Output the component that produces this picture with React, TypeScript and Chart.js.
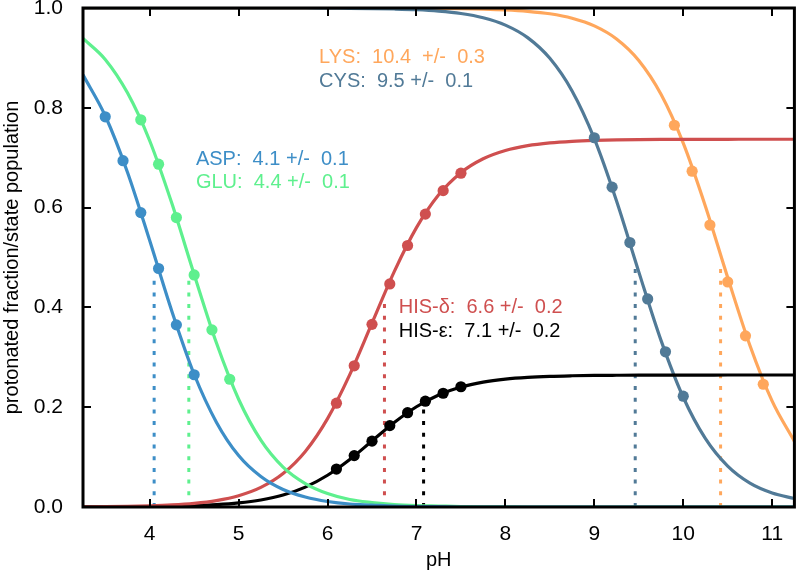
import React, { useEffect, useRef } from "react";
import { Chart, registerables } from "chart.js";

Chart.register(...registerables);

// ---- data ----
const phGrid = [
  3.25, 3.5, 3.75, 4.0, 4.25, 4.5, 4.75, 5.0, 5.25, 5.5, 5.75, 6.0, 6.25, 6.5, 6.75, 7.0, 7.25,
  7.5, 7.75, 8.0, 8.25, 8.5, 8.75, 9.0, 9.25, 9.5, 9.75, 10.0, 10.25, 10.5, 10.75, 11.0, 11.25,
];

const aspCurve = [
  0.866, 0.784, 0.671, 0.534, 0.392, 0.266, 0.17, 0.103, 0.061, 0.035, 0.02, 0.011, 0.006, 0.004,
  0.002, 0.001, 0.001, 0, 0, 0, 0, 0, 0, 0, 0, 0, 0, 0, 0, 0, 0, 0, 0,
];
const gluCurve = [
  0.939, 0.897, 0.83, 0.734, 0.608, 0.466, 0.329, 0.216, 0.134, 0.08, 0.047, 0.027, 0.015, 0.009,
  0.005, 0.003, 0.002, 0.001, 0.0005, 0.0003, 0, 0, 0, 0, 0, 0, 0, 0, 0, 0, 0, 0, 0,
];
const hisDeltaCurve = [
  0.0004, 0.0007, 0.0013, 0.0023, 0.0041, 0.0073, 0.0129, 0.0226, 0.0392, 0.067, 0.1113, 0.1771,
  0.2653, 0.3685, 0.4717, 0.5599, 0.6257, 0.67, 0.6978, 0.7144, 0.7241, 0.7297, 0.7329, 0.7347,
  0.7357, 0.7363, 0.7366, 0.7368, 0.7369, 0.7369, 0.737, 0.737, 0.737,
];
const hisEpsCurve = [
  0.0001, 0.0003, 0.0005, 0.0008, 0.0015, 0.0026, 0.0046, 0.0081, 0.0141, 0.024, 0.0399, 0.0636,
  0.0952, 0.1323, 0.1693, 0.2009, 0.2246, 0.2405, 0.2504, 0.2564, 0.2599, 0.2619, 0.263, 0.2637,
  0.264, 0.2642, 0.2643, 0.2644, 0.2644, 0.2645, 0.2645, 0.2645, 0.2645,
];
const cysCurve = [
  1, 1, 1, 1, 1, 1, 1, 1, 1, 1, 1, 0.9996, 0.9994, 0.9989, 0.998, 0.9965, 0.9937, 0.9889, 0.9804,
  0.9657, 0.9406, 0.8991, 0.8337, 0.7381, 0.6131, 0.4712, 0.3339, 0.2199, 0.1368, 0.0818, 0.0477,
  0.028, 0.017,
];
const lysCurve = [
  1, 1, 1, 1, 1, 1, 1, 1, 1, 1, 1, 1, 1, 1, 0.9998, 0.9996, 0.9993, 0.9988, 0.9979, 0.9963, 0.9934,
  0.9884, 0.9795, 0.9642, 0.938, 0.8949, 0.8272, 0.7292, 0.6023, 0.4598, 0.3237, 0.2121, 0.1315,
];

const aspPointsPH = [3.5, 3.7, 3.9, 4.1, 4.3, 4.5];
const aspPoints = [0.782, 0.694, 0.59, 0.478, 0.365, 0.265];
const gluPointsPH = [3.9, 4.1, 4.3, 4.5, 4.7, 4.9];
const gluPoints = [0.776, 0.687, 0.58, 0.465, 0.355, 0.256];
const hisPointsPH = [6.1, 6.3, 6.5, 6.7, 6.9, 7.1, 7.3, 7.5];
const hisDeltaPoints = [0.208, 0.283, 0.366, 0.447, 0.524, 0.587, 0.634, 0.669];
const hisEpsPoints = [0.076, 0.103, 0.132, 0.163, 0.189, 0.212, 0.228, 0.241];
const cysPointsPH = [9.0, 9.2, 9.4, 9.6, 9.8, 10.0];
const cysPoints = [0.74, 0.641, 0.53, 0.417, 0.311, 0.222];
const lysPointsPH = [9.9, 10.1, 10.3, 10.5, 10.7, 10.9];
const lysPoints = [0.765, 0.673, 0.565, 0.451, 0.343, 0.246];

// pKa markers (vertical dotted lines): pH and height
const pkaLinePH = [4.05, 4.44, 6.64, 7.08, 9.46, 10.42];
const pkaLineTop = [0.455, 0.457, 0.41, 0.198, 0.479, 0.479];

const seriesNames = ["ASP", "GLU", "HIS-δ", "HIS-ε", "CYS", "LYS"];
const labelTexts = [
  "ASP:  4.1 +/-  0.1",
  "GLU:  4.4 +/-  0.1",
  "HIS-δ:  6.6 +/-  0.2",
  "HIS-ε:  7.1 +/-  0.2",
  "CYS:  9.5 +/-  0.1",
  "LYS:  10.4  +/-  0.3",
];

const xTickValues = [4, 5, 6, 7, 8, 9, 10, 11];
const yTickValues = [0, 0.2, 0.4, 0.6, 0.8, 1.0];

// ---- styling / layout ----
const colors = ["#3d8ec7", "#5ef08e", "#cf4f4f", "#000000", "#517a97", "#ffa75c"];
// label anchor in data coordinates (pH, fraction) for each annotation
const labelAnchorPH = [4.52, 4.52, 6.8, 6.8, 5.905, 5.905];
const labelAnchorY = [0.685, 0.639, 0.388, 0.341, 0.842, 0.889];

const FONT = '"Liberation Sans", Arial, Helvetica, sans-serif';

const curves = [aspCurve, gluCurve, hisDeltaCurve, hisEpsCurve, cysCurve, lysCurve];
const pointsPH = [aspPointsPH, gluPointsPH, hisPointsPH, hisPointsPH, cysPointsPH, lysPointsPH];
const points = [aspPoints, gluPoints, hisDeltaPoints, hisEpsPoints, cysPoints, lysPoints];

const framePlugin = {
  id: "frameAndLabels",
  afterDraw(chart: any) {
    const { ctx, chartArea } = chart;
    const { left, right, top, bottom } = chartArea;
    const xs = chart.scales.x;
    const ys = chart.scales.y;
    ctx.save();
    ctx.strokeStyle = "#000";
    ctx.lineWidth = 2;
    ctx.beginPath();
    for (const v of xTickValues) {
      const px = Math.round(xs.getPixelForValue(v));
      ctx.moveTo(px, bottom);
      ctx.lineTo(px, bottom - 8);
      ctx.moveTo(px, top);
      ctx.lineTo(px, top + 8);
    }
    for (const v of yTickValues) {
      const py = Math.round(ys.getPixelForValue(v));
      ctx.moveTo(left, py);
      ctx.lineTo(left + 8, py);
      ctx.moveTo(right, py);
      ctx.lineTo(right - 8, py);
    }
    ctx.stroke();
    ctx.lineWidth = 3;
    ctx.strokeRect(left, top, right - left, bottom - top);

    ctx.font = "20px " + FONT;
    ctx.textAlign = "left";
    ctx.textBaseline = "alphabetic";
    labelTexts.forEach((t, i) => {
      ctx.fillStyle = colors[i];
      ctx.fillText(t, xs.getPixelForValue(labelAnchorPH[i]), ys.getPixelForValue(labelAnchorY[i]));
    });
    ctx.restore();
  },
};

export default function App() {
  const ref = useRef<HTMLCanvasElement | null>(null);

  useEffect(() => {
    document.body.style.margin = "0";
    const canvas = ref.current;
    if (!canvas) return;

    const datasets: any[] = [];
    // markers (top)
    seriesNames.forEach((name, i) => {
      datasets.push({
        label: name + " points",
        data: pointsPH[i].map((p, k) => ({ x: p, y: points[i][k] })),
        showLine: false,
        pointRadius: 5.6,
        pointBackgroundColor: colors[i],
        pointBorderColor: colors[i],
        pointBorderWidth: 0,
        borderColor: colors[i],
        order: 1,
      });
    });
    // smooth curves
    seriesNames.forEach((name, i) => {
      datasets.push({
        label: name,
        data: phGrid.map((p, k) => ({ x: p, y: curves[i][k] })),
        borderColor: colors[i],
        borderWidth: 3.2,
        pointRadius: 0,
        cubicInterpolationMode: "monotone",
        fill: false,
        order: 5,
      });
    });
    // pKa dotted lines (behind)
    seriesNames.forEach((name, i) => {
      datasets.push({
        label: name + " pKa",
        data: [
          { x: pkaLinePH[i], y: 0 },
          { x: pkaLinePH[i], y: pkaLineTop[i] },
        ],
        borderColor: colors[i],
        borderWidth: 3,
        borderDash: [4, 7.7],
        pointRadius: 0,
        fill: false,
        order: 10,
      });
    });

    const chart = new Chart(canvas, {
      type: "line",
      data: { datasets },
      options: {
        animation: false,
        responsive: false,
        devicePixelRatio: 1,
        layout: { padding: { top: 8, right: 3, left: 0, bottom: 0 } },
        plugins: { legend: { display: false }, tooltip: { enabled: false } },
        scales: {
          x: {
            type: "linear",
            min: 3.25,
            max: 11.25,
            afterBuildTicks: (s: any) => {
              s.ticks = xTickValues.map((v) => ({ value: v }));
            },
            afterFit: (s: any) => {
              s.height = 64;
              s.paddingLeft = 0;
              s.paddingRight = 0;
            },
            grid: { display: false },
            border: { display: false },
            ticks: {
              color: "#000",
              font: { size: 21, family: FONT },
              padding: 7,
              maxRotation: 0,
              autoSkip: false,
              callback: (v: any) => String(v),
            },
            title: {
              display: true,
              text: "pH",
              color: "#000",
              font: { size: 20, family: FONT },
              padding: { top: 0, bottom: -1 },
            },
          },
          y: {
            type: "linear",
            min: 0,
            max: 1,
            afterBuildTicks: (s: any) => {
              s.ticks = yTickValues.map((v) => ({ value: v }));
            },
            afterFit: (s: any) => {
              s.width = 83;
              s.paddingTop = 0;
              s.paddingBottom = 0;
            },
            grid: { display: false },
            border: { display: false },
            ticks: {
              color: "#000",
              font: { size: 21, family: FONT },
              padding: 12,
              autoSkip: false,
              callback: (v: any) => Number(v).toFixed(1),
            },
            title: {
              display: true,
              text: "protonated fraction/state population",
              color: "#000",
              font: { size: 20, family: FONT },
              padding: { top: 0, bottom: 0 },
            },
          },
        },
      },
      plugins: [framePlugin],
    });

    return () => chart.destroy();
  }, []);

  return (
    <canvas
      ref={ref}
      width={800}
      height={571}
      style={{ display: "block", width: "800px", height: "571px" }}
    />
  );
}
